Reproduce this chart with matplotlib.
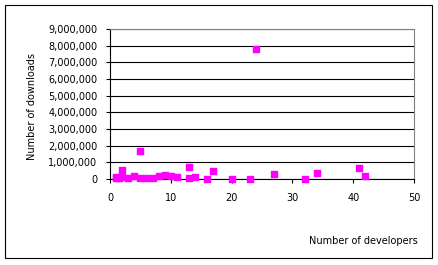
import numpy as np
import matplotlib.pyplot as plt
from matplotlib.patches import Rectangle
from matplotlib.ticker import FuncFormatter

# developers vs downloads
developers = [1, 1, 1.5, 2, 2, 3, 4, 5, 5, 6, 7, 8, 9, 10, 11, 13, 13, 14,
              16, 17, 20, 23, 24, 27, 32, 34, 41, 42]
downloads = [100000, 50000, 80000, 560000, 100000, 80000, 180000, 1680000, 80000,
             80000, 50000, 180000, 250000, 200000, 100000, 740000, 80000, 120000,
             20000, 500000, 20000, 20000, 7780000, 320000, 20000, 380000, 680000, 200000]

fig = plt.figure(figsize=(4.39, 2.65), dpi=100)
fig.patches.append(Rectangle((5/439, 1-258/265), 427/439, 253/265, transform=fig.transFigure,
                             fill=False, edgecolor='black', linewidth=0.8))

ax = fig.add_axes([110/439, 1-179/265, 304/439, 150/265])
ax.scatter(developers, downloads, marker='s', s=24, color='#FF00FF', zorder=3, clip_on=False)

ax.set_xlim(0, 50)
ax.set_ylim(0, 9000000)
ax.set_xticks(range(0, 51, 10))
ax.set_yticks(range(0, 9000001, 1000000))
ax.yaxis.set_major_formatter(FuncFormatter(lambda v, p: f"{int(v):,}"))
ax.grid(axis='y', color='black', linewidth=0.8)
ax.set_axisbelow(True)

for s in ['top', 'right']:
    ax.spines[s].set_color('#808080')
for s in ['left', 'bottom']:
    ax.spines[s].set_color('black')
for s in ax.spines.values():
    s.set_linewidth(0.8)

ax.tick_params(axis='both', direction='out', length=3, width=0.8, labelsize=7)
ax.tick_params(axis='y', pad=6)
ax.tick_params(axis='x', pad=7)

fig.text(32/439, 1-107/265, "Number of downloads", rotation=90, ha='center', va='center', fontsize=7)
fig.text(418/439, 1-241/265, "Number of developers", ha='right', va='center', fontsize=7)

fig.savefig("out.png", dpi=100)
